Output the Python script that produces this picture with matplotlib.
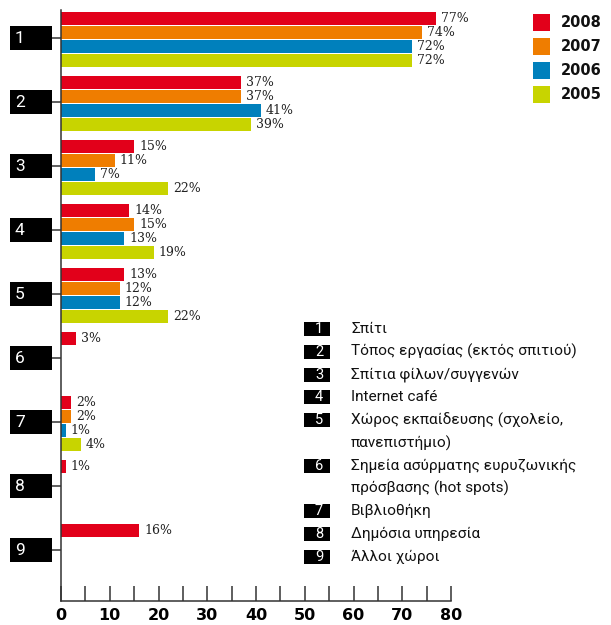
import matplotlib
matplotlib.use("Agg")
import matplotlib.pyplot as plt
import matplotlib.transforms as mtransforms
from matplotlib.patches import Rectangle

# data
years = ["2008", "2007", "2006", "2005"]
colors = ["#e2001a", "#ef7d00", "#0080bc", "#c8d400"]
categories = ["1", "2", "3", "4", "5", "6", "7", "8", "9"]
names = ["Σπίτι",
         "Τόπος εργασίας (εκτός σπιτιού)",
         "Σπίτια φίλων/συγγενών",
         "Internet café",
         "Χώρος εκπαίδευσης (σχολείο,\nπανεπιστήμιο)",
         "Σημεία ασύρματης ευρυζωνικής\nπρόσβασης (hot spots)",
         "Βιβλιοθήκη",
         "Δημόσια υπηρεσία",
         "Άλλοι χώροι"]
v2008 = [77, 37, 15, 14, 13, 3, 2, 1, 16]
v2007 = [74, 37, 11, 15, 12, None, 2, None, None]
v2006 = [72, 41, 7, 13, 12, None, 1, None, None]
v2005 = [72, 39, 22, 19, 22, None, 4, None, None]
series = [v2008, v2007, v2006, v2005]

W, H = 611, 625
fig = plt.figure(figsize=(W / 100, H / 100), dpi=100)
ax = fig.add_axes([61 / W, 1 - 601 / H, 390 / W, 591 / H])

axcol = "#333333"
lab_font = "Roboto"

# bars
for j, (vals, col) in enumerate(zip(series, colors)):
    for i, v in enumerate(vals):
        if v is None:
            continue
        y = i + 1 + 0.023 + (j - 1.5) * 0.219
        ax.barh(y, v, height=0.203, color=col, zorder=2)
        ax.annotate(f"{v}%", (v, y), xytext=(5, 0), textcoords="offset pixels",
                    va="center", ha="left", fontsize=9, family="DejaVu Serif",
                    color="#222222")

ax.set_xlim(0, 80)
ax.set_ylim(9.79, 0.5625)

for s in ["top", "right"]:
    ax.spines[s].set_visible(False)
for s in ["left", "bottom"]:
    ax.spines[s].set_color(axcol)
    ax.spines[s].set_linewidth(1.1)

ax.set_xticks(range(0, 81, 10))
ax.set_xticks(range(5, 80, 10), minor=True)
ax.tick_params(axis="x", which="both", direction="in", length=10.8, width=1.1,
               color=axcol, pad=5)
ax.tick_params(axis="x", labelsize=11.5)
for t in ax.get_xticklabels():
    t.set_fontweight("bold")

ax.set_yticks(range(1, 10))
ax.set_yticklabels([])
ax.tick_params(axis="y", direction="out", length=6.5, width=1.1, color=axcol)

# category boxes on the y axis
trans = mtransforms.blended_transform_factory(fig.transFigure, ax.transData)
for i, c in enumerate(categories):
    pos = i + 1
    ax.add_patch(Rectangle((10 / W, pos - 12 / 64), 42 / W, 24 / 64,
                           transform=trans, clip_on=False, fc="black", ec="none"))
    ax.text(15 / W, pos, c, transform=trans, color="white", va="center",
            ha="left", fontsize=12.5, family=lab_font)

# year legend
for j, (yr, col) in enumerate(zip(years, colors)):
    top = 14 + 24 * j
    fig.add_artist(Rectangle((533 / W, 1 - (top + 17) / H), 17 / W, 17 / H,
                             transform=fig.transFigure, fc=col, ec="none"))
    fig.text(561 / W, 1 - (top + 8.5) / H, yr, fontsize=10.5, fontweight="bold",
             va="center", ha="left", color="#111111")

# category legend
row = 0
for c, name in zip(categories, names):
    yc = 329 + 22.8 * row
    fig.add_artist(Rectangle((304 / W, 1 - (yc + 7) / H), 26 / W, 14 / H,
                             transform=fig.transFigure, fc="black", ec="none"))
    fig.text(319 / W, 1 - yc / H, c, fontsize=10.5, color="white",
             va="center", ha="center", family=lab_font)
    for line in name.split("\n"):
        yc = 329 + 22.8 * row
        fig.text(351 / W, 1 - yc / H, line, fontsize=11.1, color="#111111",
                 va="center", ha="left", family=lab_font)
        row += 1

fig.savefig("out.png", dpi=100)
